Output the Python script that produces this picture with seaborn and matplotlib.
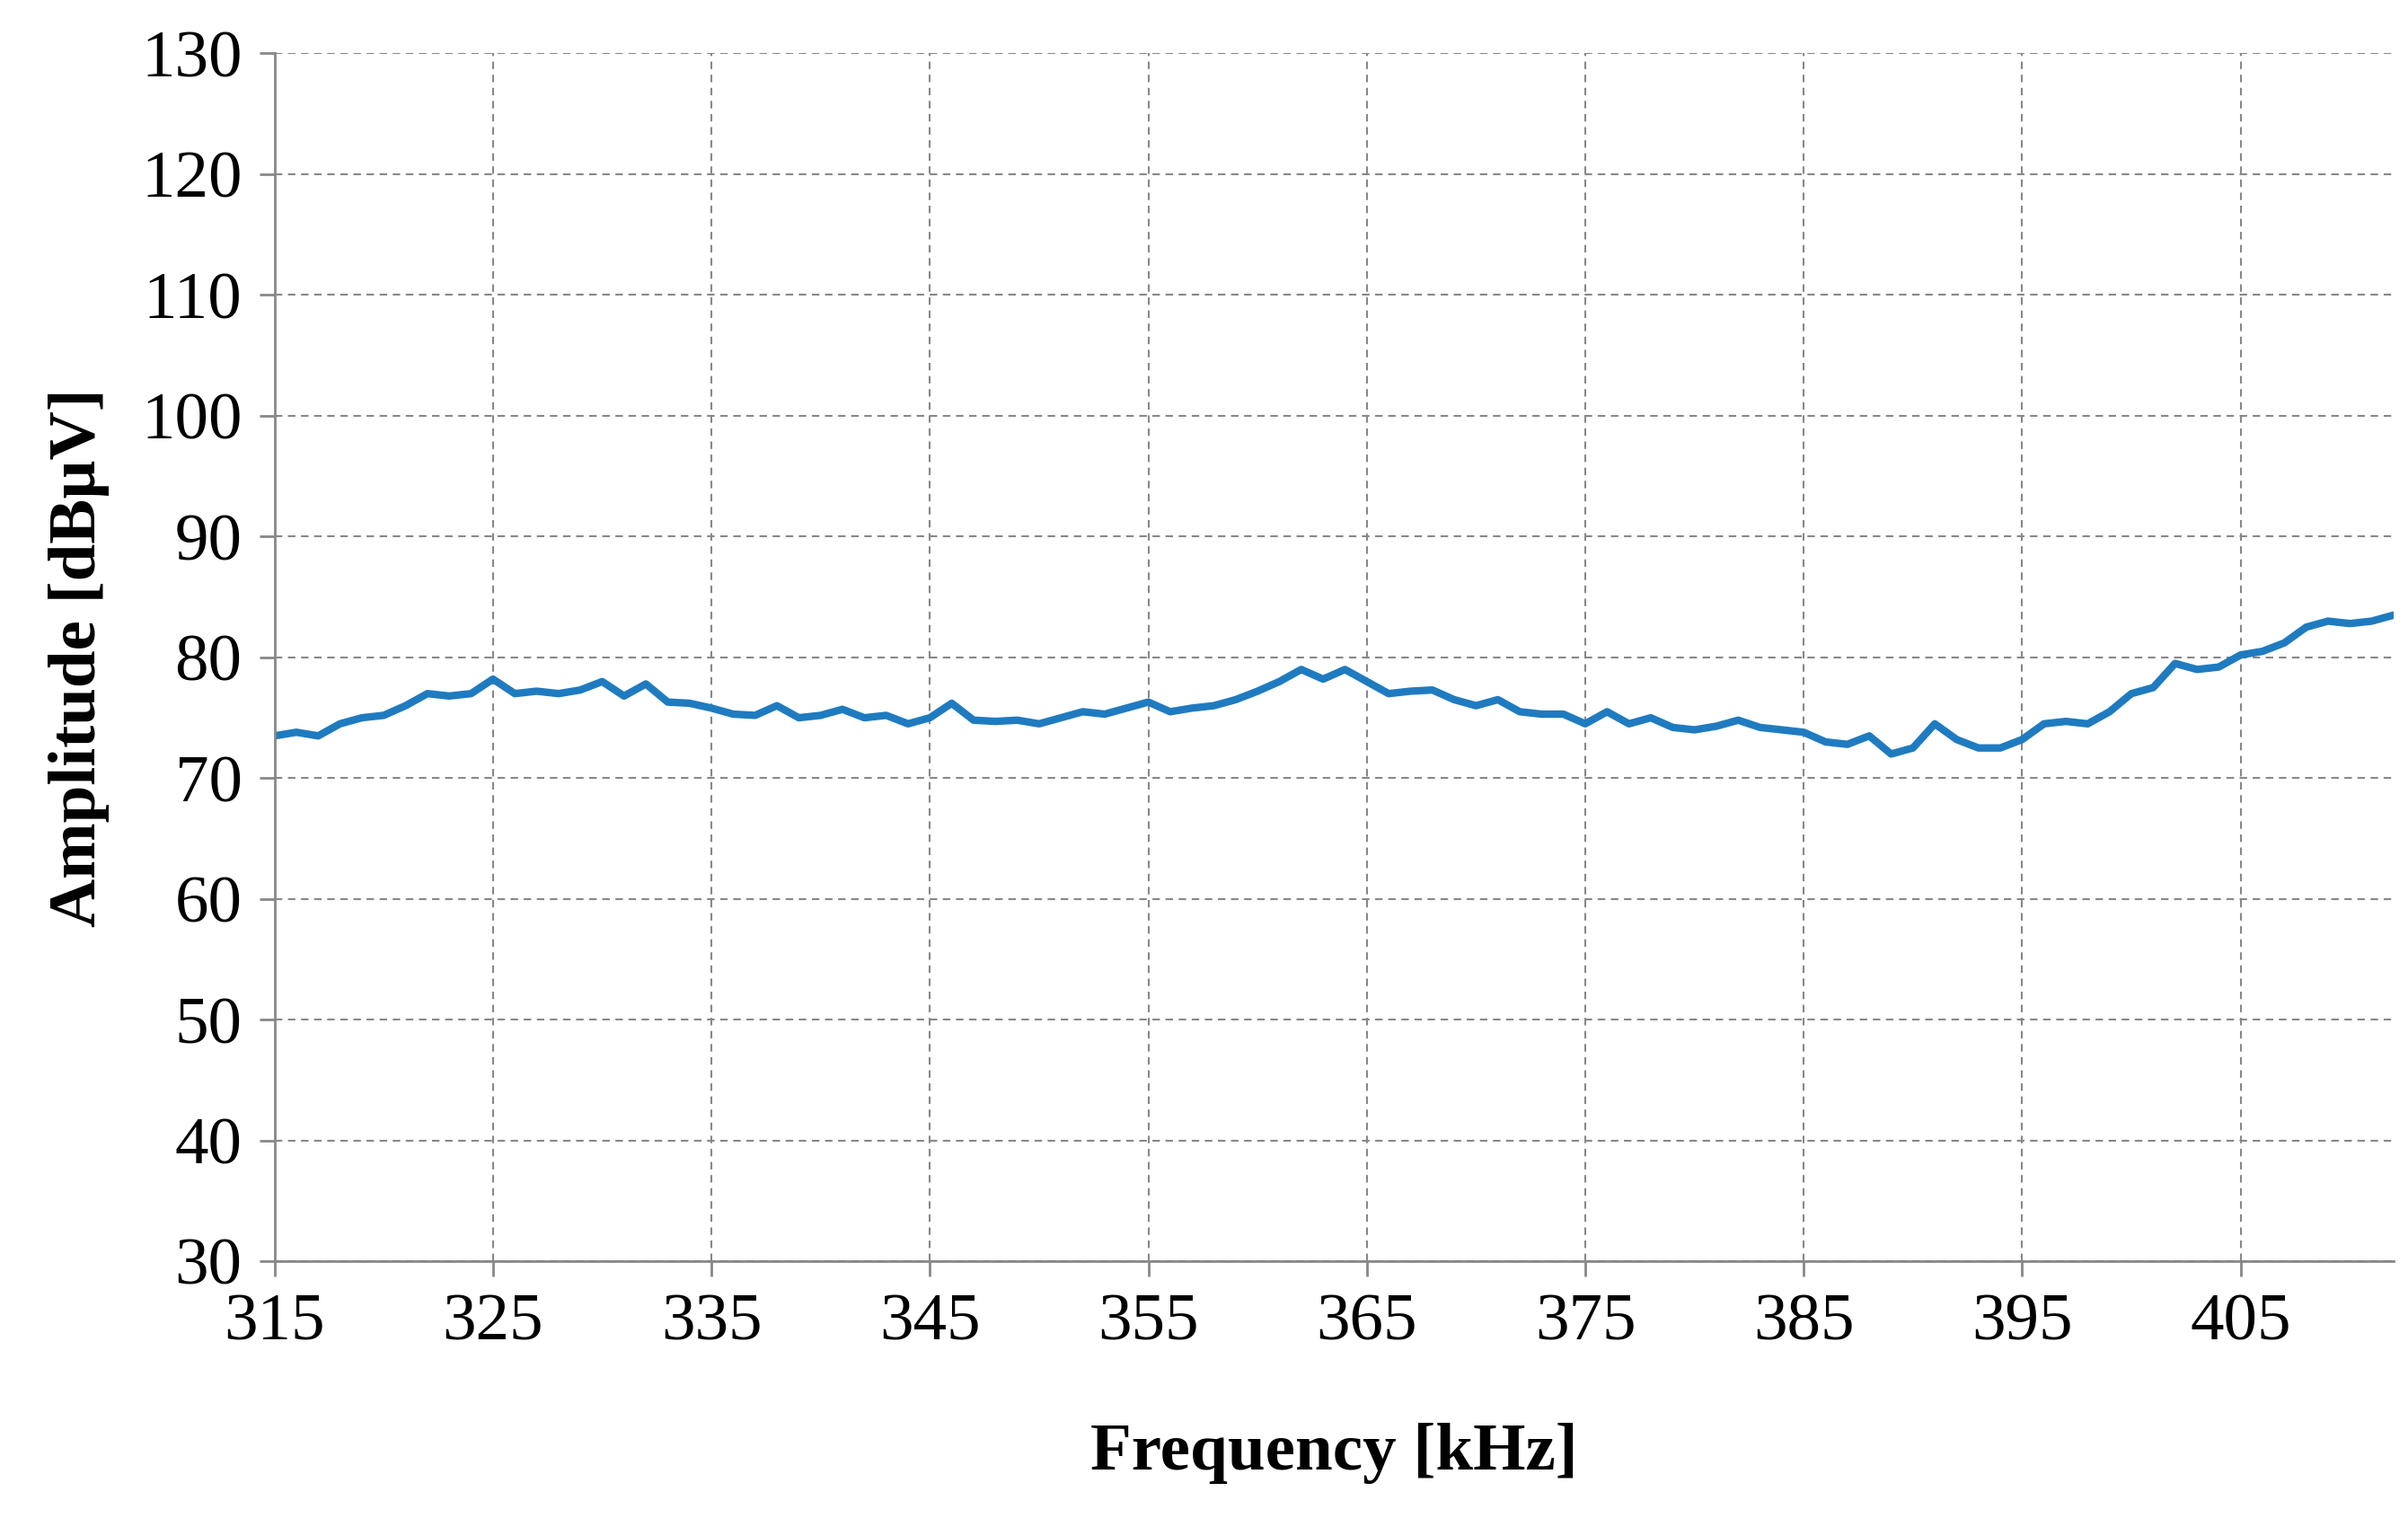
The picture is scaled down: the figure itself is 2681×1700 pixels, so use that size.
import matplotlib
matplotlib.use("Agg")
import matplotlib.pyplot as plt
import seaborn as sns
import numpy as np
import pandas as pd

freq = list(range(315, 413))
amp = [73.5,73.8,73.5,74.5,75,75.2,76,77,76.8,77,78.2,77,77.2,77,77.3,78,76.8,77.8,76.3,76.2,
       75.8,75.3,75.2,76,75,75.2,75.7,75,75.2,74.5,75,76.2,74.8,74.7,74.8,74.5,75,75.5,75.3,75.8,
       76.3,75.5,75.8,76,76.5,77.2,78,79,78.2,79,78,77,77.2,77.3,76.5,76,76.5,75.5,75.3,75.3,
       74.5,75.5,74.5,75,74.2,74,74.3,74.8,74.2,74,73.8,73,72.8,73.5,72,72.5,74.5,73.2,72.5,72.5,
       73.2,74.5,74.7,74.5,75.5,77,77.5,79.5,79,79.2,80.2,80.5,81.2,82.5,83,82.8,83,83.5]
xticks = [315,325,335,345,355,365,375,385,395,405]
yticks = list(range(30,131,10))

sns.set_theme(style="white")
plt.rcParams['font.family'] = ['Liberation Serif', 'DejaVu Serif']

fig = plt.figure(figsize=(26.81,17), dpi=100)
ax = fig.add_axes([0.114,0.174,0.88,0.791])
df = pd.DataFrame({"f":freq,"a":amp})
sns.lineplot(data=df, x="f", y="a", ax=ax, color="#1f7bc0", linewidth=6)
ax.set_xlim(315, 412)
ax.set_ylim(30,130)
ax.set_xticks(xticks); ax.set_yticks(yticks)
ax.grid(True, linestyle=(0,(4,3)), color="#888888", linewidth=1.5)
for s in ["top","right"]:
    ax.spines[s].set_visible(False)
for s in ["left","bottom"]:
    ax.spines[s].set_color("#888888"); ax.spines[s].set_linewidth(2)
ax.tick_params(axis='both', bottom=True, left=True, labelsize=54, direction='out',
               length=12, width=2, color="#888888", pad=14, labelcolor="black")
ax.set_xlabel("Frequency [kHz]", fontsize=54, fontweight="bold", labelpad=55, color="black")
ax.set_ylabel("Amplitude [dBµV]", fontsize=54, fontweight="bold", labelpad=25, color="black")
fig.savefig("out.png", dpi=100)
